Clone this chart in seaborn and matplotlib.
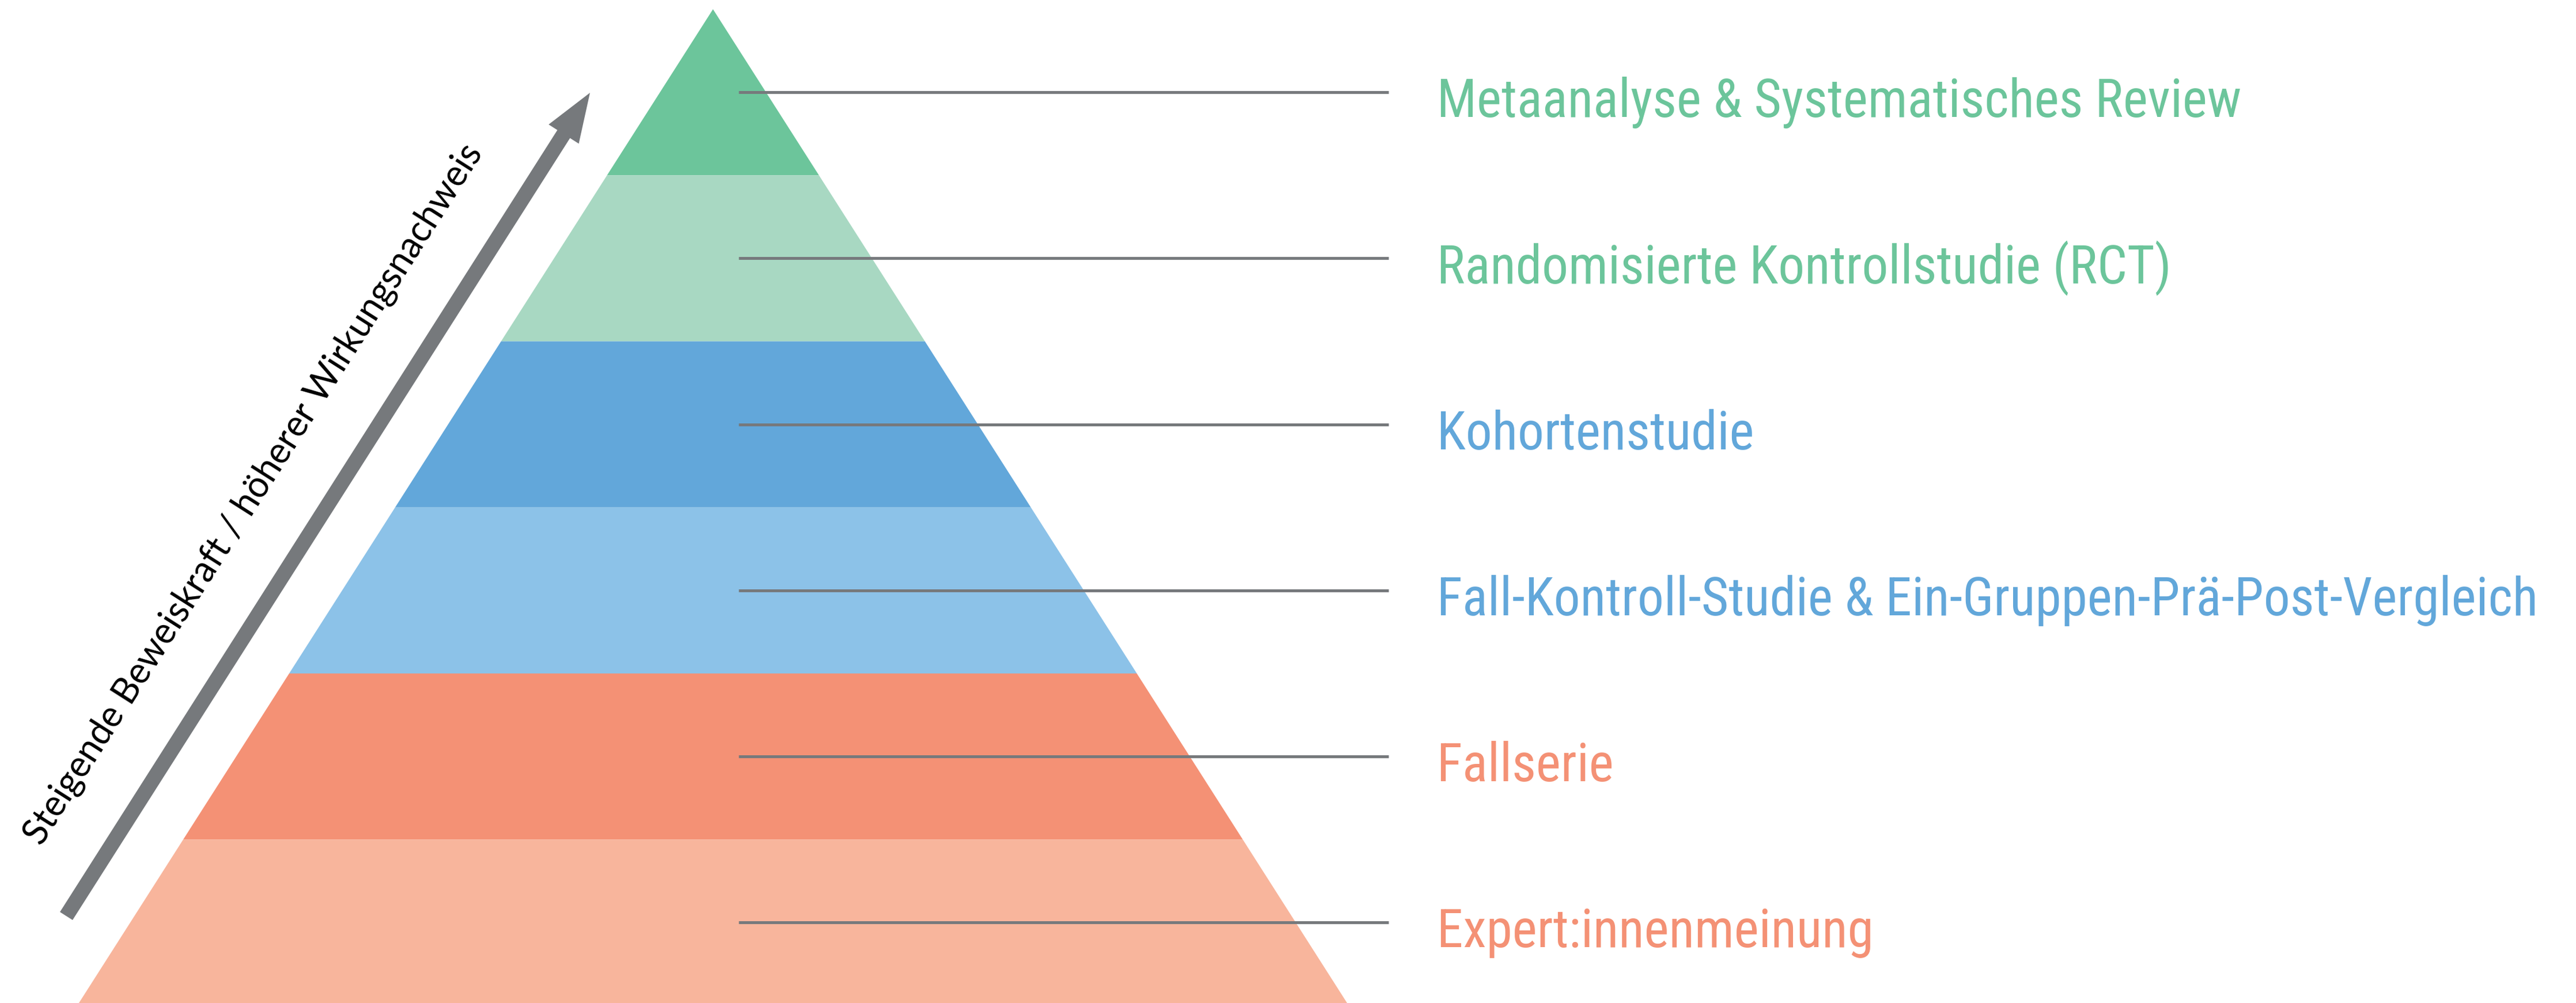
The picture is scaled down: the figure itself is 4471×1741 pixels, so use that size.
import matplotlib
matplotlib.use("Agg")
import matplotlib.pyplot as plt
import matplotlib.patches as mpatches
from matplotlib import font_manager as fm
import seaborn as sns

# Stufen der Evidenzpyramide (von oben nach unten)
levels = [
    "Metaanalyse & Systematisches Review",
    "Randomisierte Kontrollstudie (RCT)",
    "Kohortenstudie",
    "Fall-Kontroll-Studie & Ein-Gruppen-Prä-Post-Vergleich",
    "Fallserie",
    "Expert:innenmeinung",
]
band_colors = ["#6CC59B", "#A8D8C2", "#62A7DA", "#8CC2E8", "#F49175", "#F8B59C"]
text_colors = ["#6CC59B", "#6CC59B", "#62A7DA", "#62A7DA", "#F49175", "#F49175"]
arrow_label = "Steigende Beweiskraft / höherer Wirkungsnachweis"

# Layout (Pixel-Koordinaten des Bildes)
W, H = 4471, 1741
apex_x, apex_y = 1237.5, 16
band_h = 288.25
slope = 0.638          # halbe Breite pro Pixel Höhe
line_x0, line_x1 = 1282, 2410
text_x = 2494
gray = "#76797C"

sns.set_theme(style="white")
names = {f.name for f in fm.fontManager.ttflist}
label_font = "Roboto Condensed" if "Roboto Condensed" in names else "Roboto"
side_font = "Lato" if "Lato" in names else "Open Sans"
plt.rcParams["font.family"] = [label_font, "DejaVu Sans"]

fig = plt.figure(figsize=(W / 100, H / 100), dpi=100)
ax = fig.add_axes([0, 0, 1, 1])
ax.set_xlim(0, W)
ax.set_ylim(H, 0)
ax.axis("off")

palette = sns.color_palette(band_colors)
texts = []
for i, name in enumerate(levels):
    y0 = apex_y + i * band_h
    y1 = y0 + band_h
    xs = [apex_x - slope * (y0 - apex_y), apex_x + slope * (y0 - apex_y),
          apex_x + slope * (y1 - apex_y), apex_x - slope * (y1 - apex_y)]
    ax.fill(xs, [y0, y0, y1, y1], color=palette[i], lw=0, zorder=1)
    yc = (y0 + y1) / 2
    ax.plot([line_x0, line_x1], [yc, yc], color=gray, lw=3.6,
            solid_capstyle="butt", zorder=2)
    t = ax.text(text_x, yc + 43, name, color=text_colors[i], fontsize=50,
                ha="left", va="baseline")
    texts.append(t)

# Schriftgröße so anpassen, dass der längste Eintrag die Breite trifft
fig.canvas.draw()
longest = texts[3]
scale = 1913 / longest.get_window_extent().width
for t in texts:
    t.set_fontsize(50 * scale)

# Pfeil entlang der linken Pyramidenkante
tail = (115, 1590)
tip = (1024, 161)
arrow = mpatches.FancyArrow(tail[0], tail[1], tip[0] - tail[0], tip[1] - tail[1],
                            width=26, head_width=62, head_length=85,
                            length_includes_head=True, color=gray, lw=0)
ax.add_patch(arrow)

ax.text(455, 868, arrow_label, rotation=57.5, rotation_mode="anchor",
        ha="center", va="baseline", fontsize=45, color="black",
        family=[side_font, "DejaVu Sans"])

fig.savefig("out.png", dpi=100)
plt.close(fig)
